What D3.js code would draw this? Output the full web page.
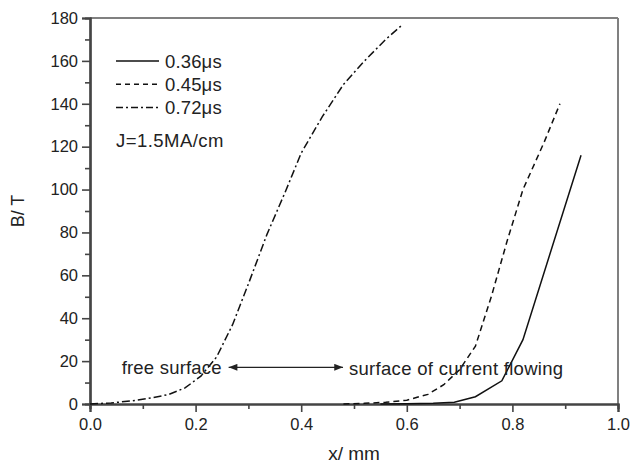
<!DOCTYPE html>
<html>
<head>
<meta charset="utf-8">
<script src="https://cdn.jsdelivr.net/npm/d3@7"></script>
<style>
  body { margin: 0; background: #fff; }
  text { font-family: "Liberation Sans", Arial, sans-serif; }
</style>
</head>
<body>
<svg id="chart" width="630" height="464"></svg>
<script>
// 0.36 us (solid)
var x036 = [0.55, 0.60, 0.65, 0.69, 0.73, 0.78, 0.82, 0.93];
var b036 = [0, 0.1, 0.3, 0.8, 3.4, 10.8, 30, 116];
// 0.45 us (dashed)
var x045 = [0.48, 0.52, 0.56, 0.60, 0.64, 0.67, 0.70, 0.73, 0.76, 0.79, 0.82, 0.86, 0.89];
var b045 = [0, 0.3, 0.8, 1.8, 4.5, 9, 16, 27, 50, 76, 100, 122, 140];
// 0.72 us (dash-dot)
var x072 = [0, 0.04, 0.08, 0.12, 0.15, 0.18, 0.21, 0.24, 0.27, 0.30, 0.335, 0.37, 0.40, 0.44, 0.48, 0.52, 0.56, 0.59];
var b072 = [0, 0.5, 1.5, 3, 4.5, 7.5, 13, 22, 37, 56, 79, 99, 117, 134, 149, 160, 170, 176.5];

var seriesNames = ["0.36\u03bcs", "0.45\u03bcs", "0.72\u03bcs"];
var xTicks = [0, 0.2, 0.4, 0.6, 0.8, 1.0];
var yTicks = [0, 20, 40, 60, 80, 100, 120, 140, 160, 180];

var margin = {top: 18, right: 12, bottom: 60, left: 90};
var W = 630, H = 464;
var w = W - margin.left - margin.right, h = H - margin.top - margin.bottom;

var svg = d3.select("#chart");
var g = svg.append("g").attr("transform", "translate(" + margin.left + "," + margin.top + ")");

var x = d3.scaleLinear().domain([0, 1]).range([0, w]);
var y = d3.scaleLinear().domain([0, 180]).range([h, 0]);

// frame top / right
g.append("line").attr("x1", 0).attr("x2", w).attr("y1", 0).attr("y2", 0)
  .attr("stroke", "#808080").attr("stroke-width", 2);
g.append("line").attr("x1", w).attr("x2", w).attr("y1", 0).attr("y2", h)
  .attr("stroke", "#808080").attr("stroke-width", 2);

// minor ticks
g.append("g").attr("class", "minor").attr("transform", "translate(0," + h + ")")
  .call(d3.axisBottom(x).tickValues(d3.range(0.1, 1, 0.2)).tickSize(5).tickFormat(""));
g.append("g").attr("class", "minor")
  .call(d3.axisLeft(y).tickValues(d3.range(10, 180, 20)).tickSize(5).tickFormat(""));

var xAxis = g.append("g").attr("transform", "translate(0," + h + ")")
  .call(d3.axisBottom(x).tickValues(xTicks).tickSize(8).tickPadding(6).tickFormat(d3.format(".1f")));
var yAxis = g.append("g")
  .call(d3.axisLeft(y).tickValues(yTicks).tickSize(8).tickPadding(4));

svg.selectAll(".domain").attr("stroke", "#444").attr("stroke-width", 2.2);
svg.selectAll(".tick line").attr("stroke", "#444").attr("stroke-width", 1.6);
svg.selectAll(".tick text").attr("font-size", 16.5).attr("fill", "#222");

// axis titles
svg.append("text").attr("x", margin.left + x(0.5)).attr("y", 460)
  .attr("text-anchor", "middle").attr("font-size", 19).attr("fill", "#222").text("x/ mm");
svg.append("text").attr("transform", "translate(23.5," + (margin.top + y(90)) + ") rotate(-90)")
  .attr("text-anchor", "middle").attr("font-size", 18).attr("fill", "#222").text("B/ T");

var styles = [null, "6,4", "8,3,2,3"];
var line = d3.line().x(function(d) { return x(d[0]); }).y(function(d) { return y(d[1]); });
var series = [d3.zip(x036, b036), d3.zip(x045, b045), d3.zip(x072, b072)];

g.selectAll("path.series").data(series).enter().append("path")
  .attr("class", "series")
  .attr("d", line)
  .attr("fill", "none")
  .attr("stroke", "#111")
  .attr("stroke-width", 1.5)
  .attr("stroke-dasharray", function(d, i) { return styles[i]; });

// legend
var leg = svg.append("g").attr("transform", "translate(116,61)");
leg.selectAll("g").data(seriesNames).enter().append("g")
  .attr("transform", function(d, i) { return "translate(0," + (i * 23.3) + ")"; })
  .each(function(d, i) {
    var self = d3.select(this);
    self.append("line").attr("x1", 0).attr("x2", 43).attr("y1", 0).attr("y2", 0)
      .attr("stroke", "#111").attr("stroke-width", 1.5)
      .attr("stroke-dasharray", i == 1 ? "5,4" : (i == 2 ? "7,3,2,3" : null));
    self.append("text").attr("x", 49).attr("y", 6.8).attr("font-size", 18.5)
      .attr("letter-spacing", 0.15).attr("fill", "#222").text(d);
  });
svg.append("text").attr("x", 116).attr("y", 146.8).attr("font-size", 18.5)
  .attr("letter-spacing", 0.45).attr("fill", "#222").text("J=1.5MA/cm");

// annotation
var defs = svg.append("defs");
defs.append("marker").attr("id", "ah").attr("viewBox", "0 0 10 8")
  .attr("refX", 10).attr("refY", 4).attr("markerWidth", 10).attr("markerHeight", 7)
  .attr("markerUnits", "userSpaceOnUse").attr("orient", "auto-start-reverse")
  .append("path").attr("d", "M0,0L10,4L0,8Z").attr("fill", "#222");

var ay = y(17.1);
g.append("line").attr("x1", x(0.2626)).attr("x2", x(0.4792)).attr("y1", ay).attr("y2", ay)
  .attr("stroke", "#222").attr("stroke-width", 1.3)
  .attr("marker-start", "url(#ah)").attr("marker-end", "url(#ah)");
g.append("text").attr("x", x(0.06)).attr("y", ay + 6.5).attr("font-size", 18.5)
  .attr("letter-spacing", 0.2).attr("fill", "#222").text("free surface");
g.append("text").attr("x", x(0.4905)).attr("y", ay + 7.5).attr("font-size", 18.5)
  .attr("letter-spacing", 0.3).attr("fill", "#222").text("surface of current flowing");
</script>
</body>
</html>
